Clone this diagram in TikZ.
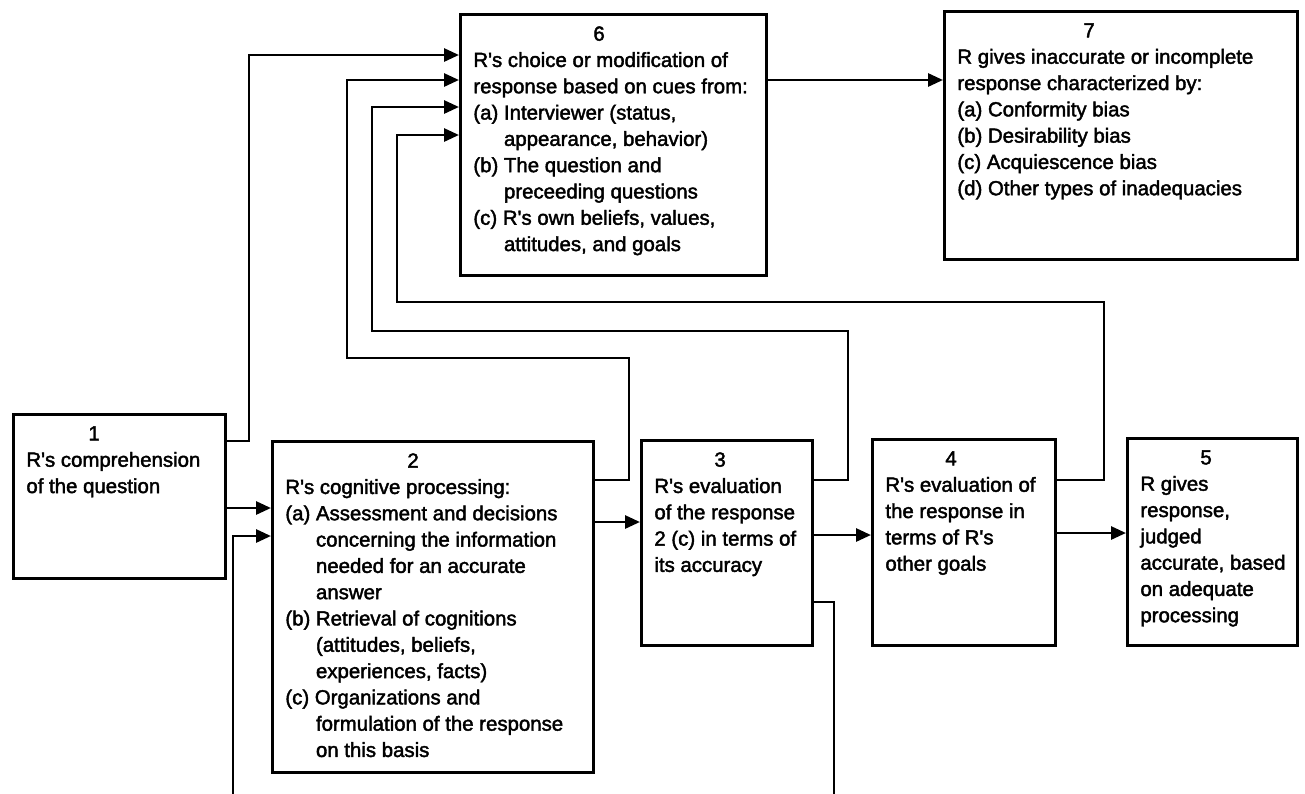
\documentclass[tikz,border=0pt]{standalone}
\usepackage{fontspec}
\setmainfont{Liberation Sans}[FakeBold=2]
\usetikzlibrary{arrows.meta,positioning}

\newcommand{\subind}{\phantom{(a)~}}
\newcommand{\Rs}{R\textquotesingle s}

\tikzset{
  stage/.style={draw, line width=1.4pt, anchor=north west, inner sep=0pt},
  stagetext/.style={anchor=north west, align=left, inner xsep=7pt, inner ysep=6.5pt,
    font=\fontsize{10.2}{13.15}\selectfont},
  link/.style={line width=1.4pt, -{Triangle[length=7.5pt,width=6.5pt]}},
}

\begin{document}
\begin{tikzpicture}[x=0.5pt,y=-0.5pt]
  \useasboundingbox (0,0) rectangle (1305,793);
  \clip (0,0) rectangle (1305,793);

  % Stages of the response process
  \node[stage, minimum width=106pt, minimum height=82pt] (b1) at (12,413) {};
  \node[stage, minimum width=160.5pt, minimum height=165.5pt] (b2) at (271,440) {};
  \node[stage, minimum width=85.5pt, minimum height=102.5pt] (b3) at (640,439) {};
  \node[stage, minimum width=91.5pt, minimum height=103pt] (b4) at (871,438) {};
  \node[stage, minimum width=85pt, minimum height=103.5pt] (b5) at (1126,437) {};
  \node[stage, minimum width=153pt, minimum height=130.5pt] (b6) at (459,13) {};
  \node[stage, minimum width=176.5pt, minimum height=124pt] (b7) at (943,10) {};

  % Texts
  \node[stagetext] (t1) at (b1.north west) {\hspace*{31pt}1\\\Rs{} comprehension\\of the question};
  \node[stagetext] (t2) at (b2.north west) {\hspace*{61pt}2\\
    \Rs{} cognitive processing:\\
    (a) Assessment and decisions\\
    \subind concerning the information\\
    \subind needed for an accurate\\
    \subind answer\\
    (b) Retrieval of cognitions\\
    \subind (attitudes, beliefs,\\
    \subind experiences, facts)\\
    (c) Organizations and\\
    \subind formulation of the response\\
    \subind on this basis};
  \node[stagetext] (t3) at (b3.north west) {\hspace*{30pt}3\\\Rs{} evaluation\\of the response\\2 (c) in terms of\\its accuracy};
  \node[stagetext] (t4) at (b4.north west) {\hspace*{30pt}4\\\Rs{} evaluation of\\the response in\\terms of \Rs\\other goals};
  \node[stagetext] (t5) at (b5.north west) {\hspace*{30pt}5\\R gives\\response,\\judged\\accurate, based\\on adequate\\processing};
  \node[stagetext] (t6) at (b6.north west) {\hspace*{60pt}6\\
    \Rs{} choice or modification of\\
    response based on cues from:\\
    (a) Interviewer (status,\\
    \subind appearance, behavior)\\
    (b) The question and\\
    \subind preceeding questions\\
    (c) \Rs{} own beliefs, values,\\
    \subind attitudes, and goals};
  \node[stagetext] (t7) at (b7.north west) {\hspace*{63pt}7\\
    R gives inaccurate or incomplete\\
    response characterized by:\\
    (a) Conformity bias\\
    (b) Desirability bias\\
    (c) Acquiescence bias\\
    (d) Other types of inadequacies};

  % Main chain
  \draw[link] (b1.east |- 0,508) -- (b2.west |- 0,508);
  \draw[link] (b2.east |- 0,522) -- (b3.west |- 0,522);
  \draw[link] (b3.east |- 0,535) -- (b4.west |- 0,535);
  \draw[link] (b4.east |- 0,533) -- (b5.west |- 0,533);
  \draw[link] (b6.east |- 0,80) -- (b7.west |- 0,80);

  % Feedback into box 6
  \draw[link] (b1.east |- 0,441) -| (249,55) -- (b6.west |- 0,55);
  \draw[link] (b2.east |- 0,480) -| (629,358) -| (347,80) -- (b6.west |- 0,80);
  \draw[link] (b3.east |- 0,480) -| (848,331) -| (372,107) -- (b6.west |- 0,107);
  \draw[link] (b4.east |- 0,480) -| (1104,302) -| (397,135) -- (b6.west |- 0,135);

  % Loop back below the picture
  \draw[link] (b3.east |- 0,602) -| (834,840) -| (233,536) -- (b2.west |- 0,536);
\end{tikzpicture}
\end{document}
